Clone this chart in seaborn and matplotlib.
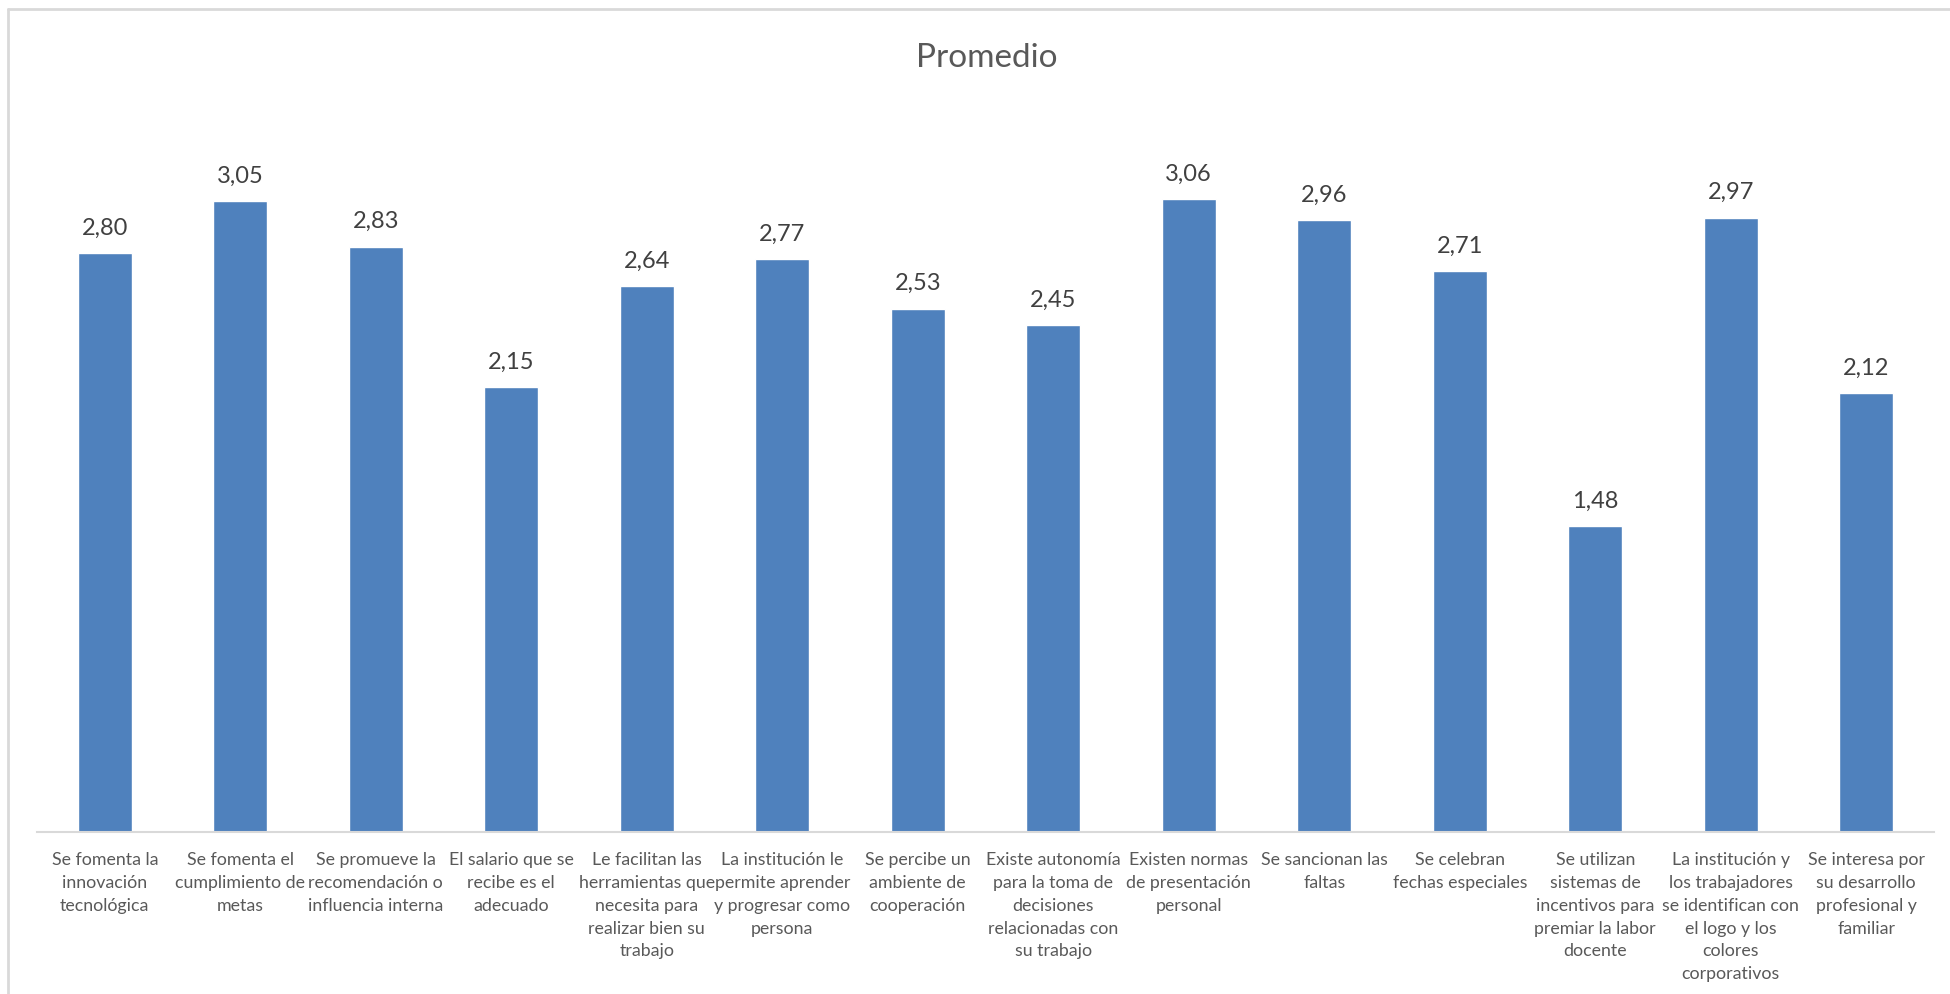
import matplotlib
matplotlib.use("Agg")
import matplotlib.pyplot as plt
import seaborn as sns
import pandas as pd
from matplotlib.lines import Line2D

categories = [
    "Se fomenta la\ninnovación\ntecnológica",
    "Se fomenta el\ncumplimiento de\nmetas",
    "Se promueve la\nrecomendación o\ninfluencia interna",
    "El salario que se\nrecibe es el\nadecuado",
    "Le facilitan las\nherramientas que\nnecesita para\nrealizar bien su\ntrabajo",
    "La institución le\npermite aprender\ny progresar como\npersona",
    "Se percibe un\nambiente de\ncooperación",
    "Existe autonomía\npara la toma de\ndecisiones\nrelacionadas con\nsu trabajo",
    "Existen normas\nde presentación\npersonal",
    "Se sancionan las\nfaltas",
    "Se celebran\nfechas especiales",
    "Se utilizan\nsistemas de\nincentivos para\npremiar la labor\ndocente",
    "La institución y\nlos trabajadores\nse identifican con\nel logo y los\ncolores\ncorporativos",
    "Se interesa por\nsu desarrollo\nprofesional y\nfamiliar",
]
values = [2.80, 3.05, 2.83, 2.15, 2.64, 2.77, 2.53, 2.45, 3.06, 2.96, 2.71, 1.48, 2.97, 2.12]
title = "Promedio"

sns.set_theme(style="white")
plt.rcParams['font.family'] = ['Lato', 'DejaVu Sans']

df = pd.DataFrame({"cat": categories, "val": values})

fig = plt.figure(figsize=(19.5, 9.95), dpi=100)
ax = fig.add_axes([0.019, 0.1628, 0.9728, 0.7277])
sns.barplot(data=df, x="cat", y="val", color="#4F81BD", saturation=1, width=0.4, ax=ax)
ax.set_ylim(0, 3.5)
ax.set_xlim(-0.5, len(categories) - 0.5)
ax.set_xlabel("")
ax.set_ylabel("")
ax.set_yticks([])
for s in ["top", "right", "left"]:
    ax.spines[s].set_visible(False)
ax.spines["bottom"].set_color("#D9D9D9")
ax.spines["bottom"].set_linewidth(1.5)
ax.tick_params(axis="x", length=0, pad=14, labelsize=12.8, labelcolor="#595959")
for lbl in ax.get_xticklabels():
    lbl.set_linespacing(1.52)

labels = [f"{v:.2f}".replace(".", ",") for v in values]
ax.bar_label(ax.containers[0], labels=labels, padding=11, fontsize=17, color="#404040")

fig.text(0.506, 0.942, title, ha="center", va="center", fontsize=24, color="#595959")

fig.add_artist(Line2D([8/1950, 8/1950], [0, 1 - 10/995], transform=fig.transFigure, color="#D9D9D9", lw=2))
fig.add_artist(Line2D([8/1950, 1], [1 - 10/995, 1 - 10/995], transform=fig.transFigure, color="#D9D9D9", lw=2))

fig.savefig("out.png", dpi=100, facecolor="white")
